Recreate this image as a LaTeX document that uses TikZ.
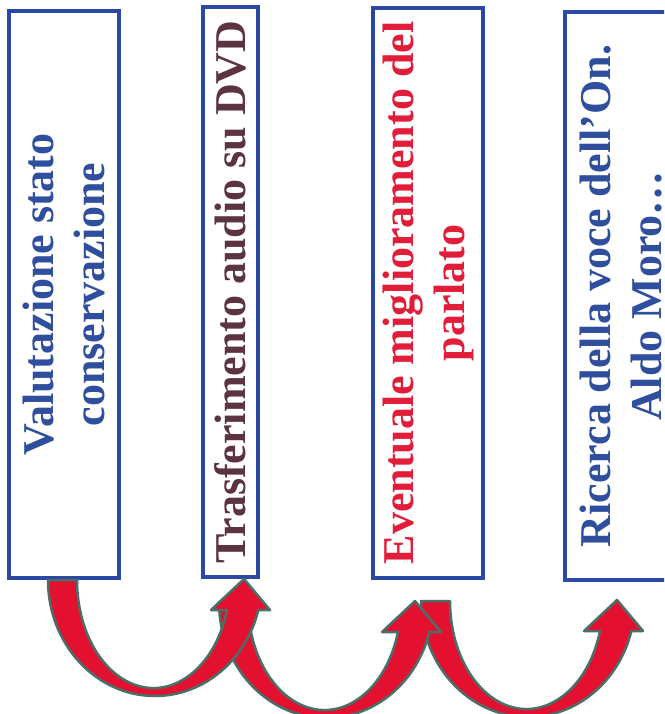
\documentclass[tikz,border=0pt]{standalone}
\usepackage{fontspec}
\setmainfont{Liberation Serif}
\usetikzlibrary{calc}
\definecolor{boxblue}{RGB}{43,72,163}
\definecolor{txtblue}{RGB}{47,78,158}
\definecolor{txtbrown}{RGB}{92,52,64}
\definecolor{txtred}{RGB}{226,29,58}
\definecolor{arrowred}{RGB}{228,16,48}
\definecolor{arrowedge}{RGB}{74,110,104}
\tikzset{
  stepbox/.style={draw=boxblue, line width=4pt, fill=white, rotate=90,
    inner sep=0pt, align=center,
    font=\fontsize{44}{51}\selectfont\bfseries},
  pics/curvearrow/.style={code={
    \path[fill=arrowred, draw=arrowedge, line width=2.5pt, line join=round]
      (0,0) arc[start angle=180, end angle=345, x radius=107, y radius=116]
      -- (222,-30) -- (196,1) -- (163,-30) -- (179,-30)
      arc[start angle=343.9, end angle=180, x radius=76.5, y radius=108]
      -- cycle;
  }}
}
\begin{document}
\begin{tikzpicture}[x=1pt,y=1pt]
\useasboundingbox (0,0) rectangle (664,-714);
\clip (0,0) rectangle (664,-714);
\fill[white] (0,0) rectangle (664,-714);
\node[stepbox, text=txtblue, minimum width=567pt, minimum height=110pt] (b1) at (64,-294.5)
  {Valutazione stato\\conservazione};
\node[stepbox, text=txtbrown, minimum width=570pt, minimum height=55pt] (b2) at (230.5,-292)
  {Trasferimento audio su DVD};
\node[stepbox, text=txtred, minimum width=570pt, minimum height=110pt] (b3) at (428,-293)
  {Eventuale miglioramento del\\parlato};
\node[stepbox, text=txtblue, minimum width=568pt, minimum height=112pt] (b4) at (621,-296)
  {Ricerca della voce dell’On.\\Aldo Moro…};
\pic at ($(b3.west)+(-7,-21)$) {curvearrow};
\pic at ($(b2.west)+(-11.5,-23)$) {curvearrow};
\pic at ($(b1.west)+(-16,0)$) {curvearrow};
\end{tikzpicture}
\end{document}
